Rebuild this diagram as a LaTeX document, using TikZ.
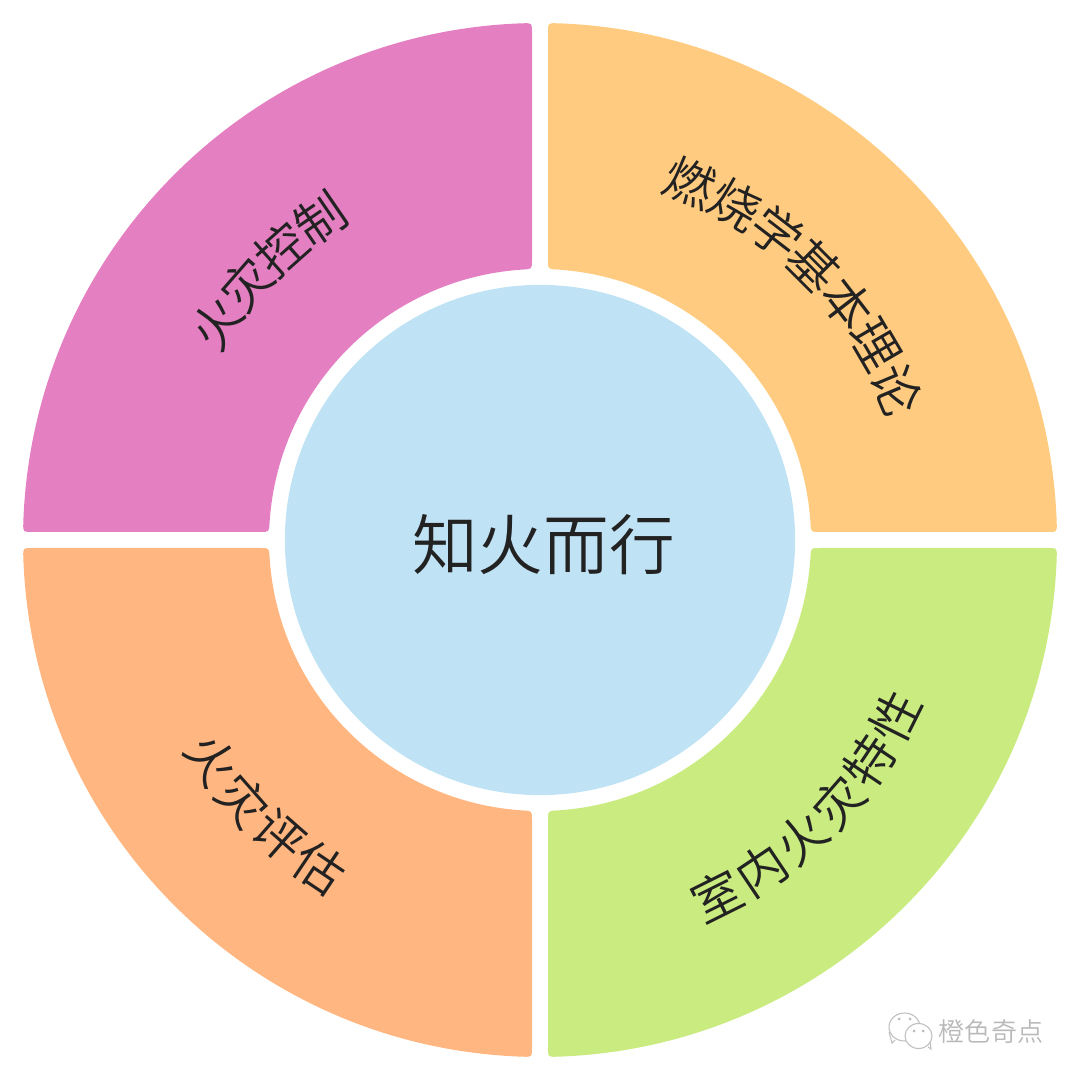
\documentclass[tikz,border=0pt]{standalone}
\usepackage{fontspec}
\setmainfont{Noto Sans CJK SC DemiLight}
\definecolor{hubblue}{HTML}{C0E2F5}
\definecolor{burnorange}{HTML}{FFCB80}
\definecolor{ctrlpink}{HTML}{E480C2}
\definecolor{evalsalmon}{HTML}{FFB680}
\definecolor{roomgreen}{HTML}{C9EB80}
\definecolor{inktext}{HTML}{222222}
\tikzset{
  ringlabel/.style={text=inktext,inner sep=0pt,font=\fontsize{14.2}{16}\selectfont},
  hublabel/.style={text=inktext,inner sep=0pt,font=\fontsize{18.65}{22}\selectfont},
  marklabel/.style={text=gray!55,inner sep=0pt,font=\fontsize{7.4}{9}\selectfont},
  markbubble/.style={draw=gray!50,fill=white,line width=0.3pt},
  markeye/.style={fill=gray!55}
}

\begin{document}
\begin{tikzpicture}[scale=0.01]
  \useasboundingbox (-540,-540) rectangle (540,540);
  \foreach \col/\rot in {burnorange/0,ctrlpink/90,evalsalmon/180,roomgreen/270}
    \fill[\col,rotate=\rot] (88.16:517) arc[start angle=88.16,end angle=1.84,radius=517]
      .. controls (0.89:517) .. (508,8) -- (280,8)
      .. controls (1.69:271) .. (3.6:271) arc[start angle=3.6,end angle=86.4,radius=271]
      .. controls (88.31:271) .. (8,280) -- (8,508)
      .. controls (89.11:517) .. (88.16:517) -- cycle;
  \node[circle,fill=hubblue,minimum size=5.1cm,inner sep=0pt] (hub) at (0,0) {};
  \node[hublabel] (hubtext) at (3.5,-5) {知火而行};
  \foreach \ch [count=\i] in {燃,烧,学,基,本,理,论} {
    \pgfmathsetmacro\ang{67.2-7.4*(\i-1)}
    \node[ringlabel,rotate=\ang-90] (burn\i) at (\ang:388) {\ch};
  }
  \foreach \ch [count=\i] in {火,灾,控,制} {
    \pgfmathsetmacro\ang{146.1-7.23*(\i-1)}
    \node[ringlabel,rotate=\ang-90] (ctrl\i) at (\ang:389) {\ch};
  }
  \foreach \ch [count=\i] in {室,内,火,灾,特,性} {
    \pgfmathsetmacro\ang{296.5+7.4*(\i-1)}
    \node[ringlabel,rotate=\ang-270] (room\i) at (\ang:397) {\ch};
  }
  \foreach \ch [count=\i] in {火,灾,评,估} {
    \pgfmathsetmacro\ang{213.9+7.4*(\i-1)}
    \node[ringlabel,rotate=\ang-270] (eval\i) at (\ang:395) {\ch};
  }
  \draw[markbubble] (355,-500) -- (352,-503) -- (349,-492);
  \draw[markbubble] (364.5,-487) ellipse (15.5 and 14);
  \fill[markeye] (359,-479) circle (1.5) (370,-479) circle (1.5);
  \draw[markbubble] (388,-507) -- (391,-509) -- (390,-501);
  \draw[markbubble] (378.5,-496) ellipse (13.5 and 12.5);
  \fill[markeye] (374,-491) circle (1.5) (383,-491) circle (1.5);
  \node[marklabel] (mark) at (451,-492) {橙色奇点};
\end{tikzpicture}
\end{document}
